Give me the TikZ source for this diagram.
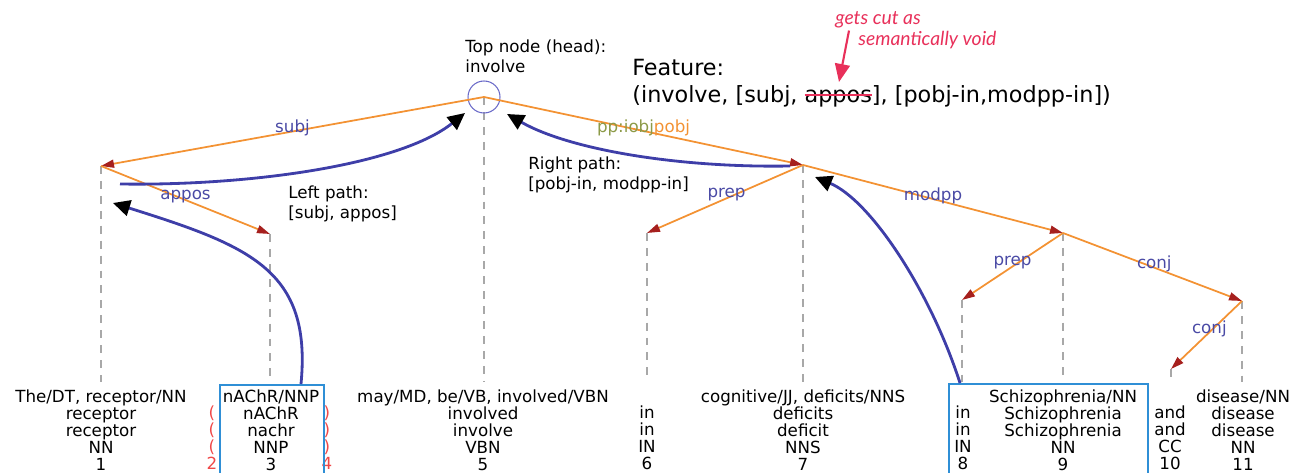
\documentclass[tikz,border=0pt]{standalone}
\usepackage{fontspec}
\setmainfont{DejaVu Sans}
\newfontfamily\notefont{Lato}
\usepackage{xcolor}
\usepackage{tikz}
\usetikzlibrary{arrows.meta,positioning}
\definecolor{depOrange}{HTML}{F39233}
\definecolor{depArrow}{HTML}{A6201E}
\definecolor{lblBlue}{HTML}{4A4AA5}
\definecolor{pathBlue}{HTML}{3E3EA8}
\definecolor{headBlue}{HTML}{6A6AC8}
\definecolor{dashGrey}{HTML}{A8A8A8}
\definecolor{boxBlue}{HTML}{2F8FD6}
\definecolor{parRed}{HTML}{F04848}
\definecolor{cutRed}{HTML}{E8305A}
\definecolor{iobjOlive}{HTML}{8C9A48}
\newsavebox{\cutbox}
\newcommand{\cutword}[1]{\sbox\cutbox{#1}\usebox\cutbox\llap{\textcolor{cutRed}{\rule[0.5ex]{\wd\cutbox}{1.2pt}}}}
\tikzset{
  depedge/.style={draw=depOrange, line width=1pt, -{Triangle[length=2.6mm,width=1.6mm,color=depArrow]}},
  deplbl/.style={font=\fontsize{9.5}{11}\selectfont, text=lblBlue, inner sep=0pt, yshift=2pt},
  tickline/.style={draw=dashGrey, line width=0.7pt, dash pattern=on 4.5pt off 4pt},
  pathcurve/.style={draw=pathBlue, line width=1.6pt, -{Triangle[length=3.4mm,width=3.2mm,color=black]}},
  wordcol/.style={align=center, font=\fontsize{9.5}{9.6}\selectfont, inner sep=0pt, anchor=north},
  hlbox/.style={draw=boxBlue, line width=1.4pt, anchor=north, minimum height=1.8cm},
  caption/.style={align=left, font=\fontsize{9.5}{11.4}\selectfont, inner sep=0pt, anchor=north west},
  note/.style={font=\notefont\itshape\fontsize{11}{13}\selectfont, text=cutRed, inner sep=0pt, anchor=west},
  cutarrow/.style={draw=cutRed, line width=1.2pt, -{Triangle[length=3.6mm,width=3mm]}},
}

\begin{document}
\begin{tikzpicture}
\useasboundingbox (0,0) rectangle (25.84,9.44);
\coordinate (root) at (9.68,7.50);
\coordinate (n1) at (2.02,6.12);
\coordinate (n3) at (5.40,4.76);
\coordinate (n6) at (12.94,4.78);
\coordinate (n7) at (16.06,6.14);
\coordinate (n8) at (19.24,3.44);
\coordinate (n9) at (21.26,4.78);
\coordinate (n10) at (23.42,2.06);
\coordinate (n11) at (24.84,3.42);
\coordinate (base) at (0,1.80);

\foreach \n in {root,n1,n3,n6,n7,n8,n9,n10,n11}
  \draw[tickline] (\n) -- (\n |- base);
\node[draw=headBlue, circle, minimum size=0.64cm, inner sep=0pt, line width=0.6pt] (headring) at (root) {};

% dependency edges
\draw[depedge] (root) -- node[deplbl, pos=0.5] (lsubj) {subj} (n1);
\draw[depedge] (n1) -- node[deplbl, pos=0.5] (lappos) {appos} (n3);
\draw[depedge] (root) -- node[deplbl, pos=0.5] (lpobj) {\textcolor{iobjOlive}{pp:iobj}\textcolor{depOrange}{pobj}} (n7);
\draw[depedge] (n7) -- node[deplbl, pos=0.49] (lprepA) {prep} (n6);
\draw[depedge] (n7) -- node[deplbl, pos=0.5] (lmodpp) {modpp} (n9);
\draw[depedge] (n9) -- node[deplbl, pos=0.5] (lprepB) {prep} (n8);
\draw[depedge] (n9) -- node[deplbl, pos=0.51] (lconjA) {conj} (n11);
\draw[depedge] (n11) -- node[deplbl, pos=0.46] (lconjB) {conj} (n10);

% token columns
\node[wordcol] (w1) at (2.02,1.65) {The/DT, receptor/NN\\receptor\\receptor\\NN\\1};
\node[wordcol, text=parRed] (w2) at (4.24,1.65) {\phantom{I}\\(\\(\\(\\2};
\node[wordcol] (w3) at (5.42,1.65) {nAChR/NNP\\nAChR\\nachr\\NNP\\3};
\node[wordcol, text=parRed] (w4) at (6.54,1.65) {\phantom{I}\\)\\)\\)\\4};
\node[wordcol] (w5) at (9.66,1.65) {may/MD, be/VB, involved/VBN\\involved\\involve\\VBN\\5};
\node[wordcol] (w6) at (12.94,1.65) {\phantom{I}\\in\\in\\IN\\6};
\node[wordcol] (w7) at (16.06,1.65) {cognitive/JJ, deficits/NNS\\deficits\\deficit\\NNS\\7};
\node[wordcol] (w8) at (19.26,1.65) {\phantom{I}\\in\\in\\IN\\8};
\node[wordcol] (w9) at (21.26,1.65) {Schizophrenia/NN\\Schizophrenia\\Schizophrenia\\NN\\9};
\node[wordcol] (w10) at (23.40,1.65) {\phantom{I}\\and\\and\\CC\\10};
\node[wordcol] (w11) at (24.86,1.65) {disease/NN\\disease\\disease\\NN\\11};
\node[hlbox, minimum width=2.08cm] (boxA) at (5.44,1.76) {};
\node[hlbox, minimum width=3.98cm] (boxB) at (20.97,1.78) {};

% paths
\coordinate (lpA) at (2.40,5.76);
\coordinate (lpB) at (9.30,7.18);
\coordinate (lpC) at (2.26,5.38);
\coordinate (rpA) at (15.80,6.12);
\coordinate (rpB) at (10.14,7.16);
\coordinate (rpC) at (16.30,5.90);
\draw[pathcurve] (lpA) .. controls (5.00,5.72) and (8.00,6.14) .. (lpB);
\draw[pathcurve] (boxA.north -| 6.02,0) .. controls (6.24,4.04) and (5.00,4.52) .. (lpC);
\draw[pathcurve] (rpA) .. controls (13.60,6.08) and (11.40,6.44) .. (rpB);
\draw[pathcurve] (boxB.north -| 19.20,0) .. controls (18.60,3.64) and (17.40,5.44) .. (rpC);

\node[caption] (topnote) at (9.30,8.66) {Top node (head):\\involve};
\node[caption] (leftnote) at (5.76,5.74) {Left path:\\{}[subj, appos]};
\node[caption] (rightnote) at (10.56,6.32) {Right path:\\{}[pobj-in, modpp-in]};
\node[caption, font=\fontsize{12.7}{15.3}\selectfont] (feature) at (12.64,8.27)
  {Feature:\\(involve, [subj, \cutword{appos}], [pobj-in,modpp-in])};

\node[note] (cutA) at (16.70,9.04) {gets cut as};
\node[note] (cutB) at (17.16,8.64) {semantically void};
\coordinate (cuttip) at (16.78,7.80);
\draw[cutarrow] ([xshift=0.28cm,yshift=-0.04cm]cutA.south west) -- (cuttip);
\end{tikzpicture}
\end{document}
